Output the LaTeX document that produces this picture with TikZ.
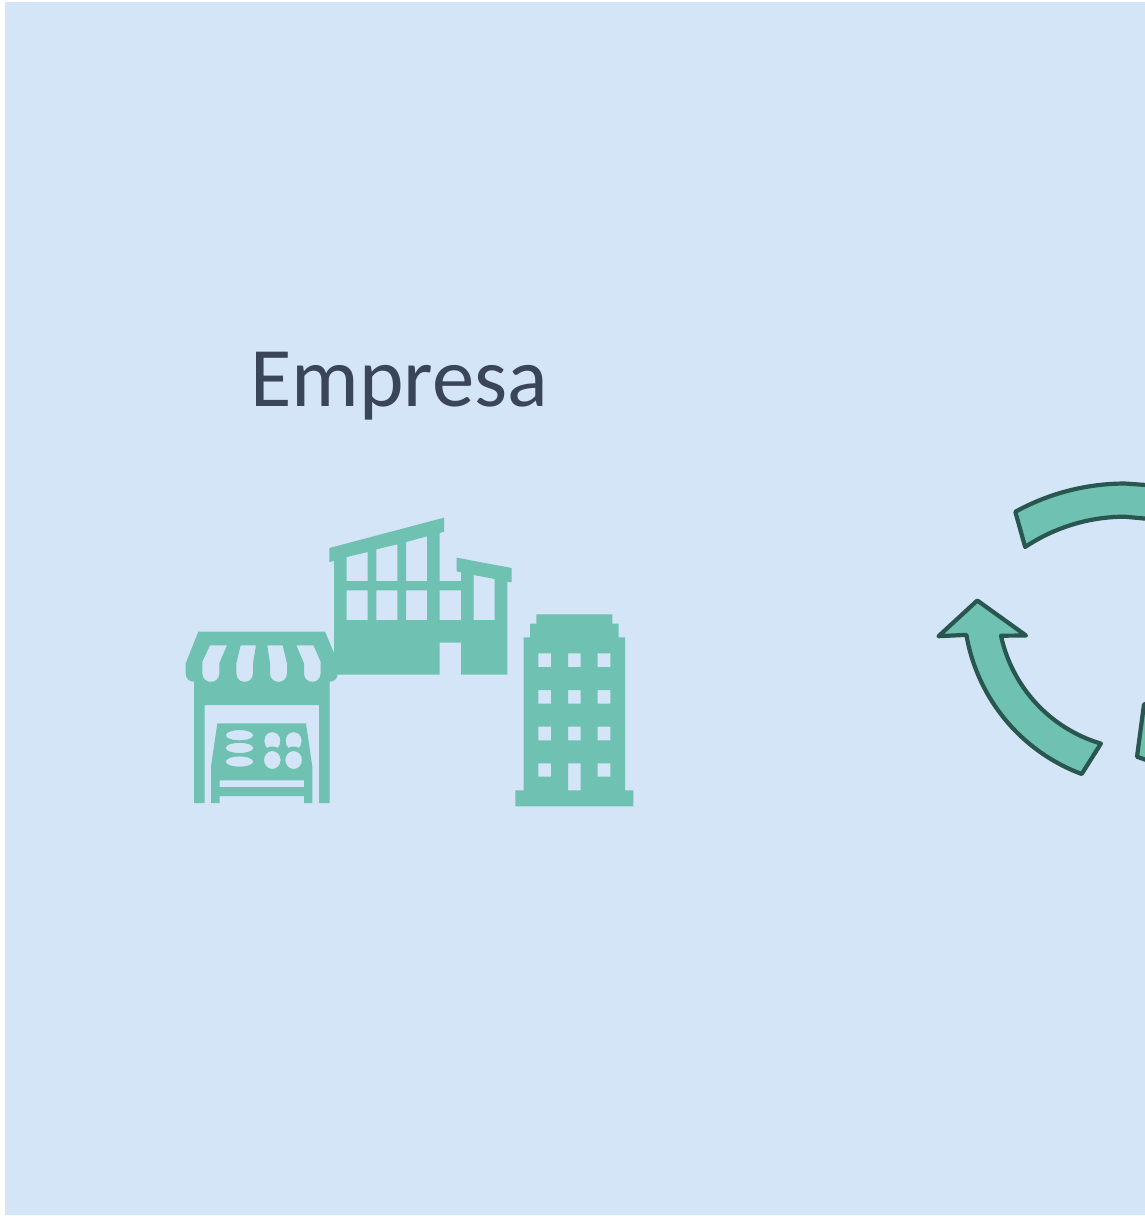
\documentclass[tikz,border=0pt]{standalone}
\usepackage{fontspec}
\setmainfont{Carlito}
\definecolor{bgblue}{HTML}{D4E5F7}
\definecolor{teal}{HTML}{6FC1B1}
\definecolor{darkteal}{HTML}{2A5650}
\definecolor{titleink}{HTML}{3B4559}
\tikzset{
  icon/.style={fill=teal,even odd rule,draw=none},
  loop arrow/.style={fill=teal,draw=darkteal,line width=4.2pt,line join=round}
}
\begin{document}
\begin{tikzpicture}[x=1pt,y=-1pt]
\useasboundingbox (0,0) rectangle (1145,1216);
\fill[white] (0,0) rectangle (1145,1216);
\fill[bgblue] (5,2) rectangle (1145,1215);
\node[anchor=base west,inner sep=0pt,text=titleink,font=\fontsize{84.7}{90}\selectfont] (empresa) at (250,406) {Empresa};

% market stall
\begin{scope}[shift={(170,620)},scale=1/3]
\path[icon]
 (85,35) -- (465,35) -- (503,125) -- (503,160) .. controls (503,176) and (493,185) .. (479,185)
 -- (479,549) -- (447,549) -- (447,255) -- (104,255) -- (104,549) -- (72,549) -- (72,185)
 .. controls (58,185) and (47,176) .. (47,160) -- (47,130) -- cycle
 (120,76) -- (171,76) -- (148,130) -- (148,160) .. controls (148,194) and (97,194) .. (97,160) -- (97,125) -- cycle
 (212,76) -- (258,76) -- (249,130) -- (249,160) .. controls (249,194) and (199,194) .. (199,160) -- (199,130) -- cycle
 (292,76) -- (338,76) -- (351,130) -- (351,160) .. controls (351,194) and (300,194) .. (300,160) -- (300,130) -- cycle
 (379,76) -- (430,76) -- (452,125) -- (452,160) .. controls (452,194) and (402,194) .. (402,160) -- (402,130) -- cycle;
\path[icon]
 (142,310) -- (408,310) -- (427,440) -- (427,549) -- (402,549) -- (402,528) -- (149,528) -- (149,549) -- (123,549) -- (123,440) -- cycle
 (149,481) rectangle (402,501)
 (167,346) .. controls (170,325) and (247,325) .. (250,346) .. controls (247,366) and (170,366) .. (167,346)
 (167,384) .. controls (170,363) and (247,363) .. (250,384) .. controls (247,404) and (170,404) .. (167,384)
 (167,425) .. controls (170,404) and (247,404) .. (250,425) .. controls (247,445) and (170,445) .. (167,425)
 (283,362) .. controls (283,328) and (331,328) .. (331,362) .. controls (331,372) and (327,380) .. (323,384) .. controls (315,378) and (298,378) .. (291,384) .. controls (287,380) and (283,372) .. (283,362)
 (347,362) .. controls (347,328) and (395,328) .. (395,362) .. controls (395,372) and (391,380) .. (387,384) .. controls (379,378) and (362,378) .. (355,384) .. controls (351,380) and (347,372) .. (347,362)
 (307,420) ellipse [x radius=25,y radius=27]
 (371,420) ellipse [x radius=25,y radius=27];
\end{scope}

% office with sloped roofs
\begin{scope}[shift={(320,505)},scale=1/3]
\path[icon]
 (28,129) -- (372,38) -- (372,80) -- (359,84) -- (359,228) -- (423,228) -- (423,202) -- (410,199) -- (410,158)
 -- (575,189) -- (575,232) -- (562,230) -- (562,509) -- (423,509) -- (423,413) -- (359,413) -- (359,509) -- (42,509)
 -- (42,168) -- (28,171) -- cycle
 (80,156) -- (143,141) -- (143,228) -- (80,228) -- cycle
 (169,133) -- (232,118) -- (232,228) -- (169,228) -- cycle
 (258,111) -- (321,94) -- (321,228) -- (258,228) -- cycle
 (80,256) rectangle (143,345)
 (169,256) rectangle (232,345)
 (258,256) rectangle (321,345)
 (359,256) rectangle (423,345)
 (461,210) -- (524,222) -- (524,345) -- (461,345) -- cycle;
\end{scope}

% tower
\begin{scope}[shift={(505,605)},scale=1/3]
\path[icon]
 (94,28) -- (322,28) -- (322,56) -- (341,56) -- (341,97) -- (360,97) -- (360,556) -- (385,556) -- (385,604)
 -- (31,604) -- (31,556) -- (56,556) -- (56,97) -- (75,97) -- (75,56) -- (94,56) -- cycle
 (100,145) rectangle (138,186) (189,145) rectangle (227,186) (278,145) rectangle (316,186)
 (100,255) rectangle (138,296) (189,255) rectangle (227,296) (278,255) rectangle (316,296)
 (100,365) rectangle (138,406) (189,365) rectangle (227,406) (278,365) rectangle (316,406)
 (100,475) rectangle (138,515) (189,475) rectangle (227,556) (278,475) rectangle (316,515);
\end{scope}

% cycle arrows, cut by the page edge
\begin{scope}
\clip (0,0) rectangle (1145,1216);
\draw[loop arrow] (1015.3,511.8) arc[start angle=241.1,end angle=270,radius=227]
  -- (1160,486) -- (1160,520) -- (1125,516.7) arc[start angle=270,end angle=236.3,radius=180] -- cycle;
\draw[loop arrow] (977.3,600.5) -- (1026,635.5) -- (1001,635.7)
  arc[start angle=167.9,end angle=106.5,radius=144] -- (1081.7,774)
  arc[start angle=110.4,end angle=170.3,radius=181] -- (938.5,636.2) -- cycle;
\draw[loop arrow] (1144,704.3) -- (1160,704) -- (1160,765) -- (1137,756.7) -- cycle;
\end{scope}
\end{tikzpicture}
\end{document}
